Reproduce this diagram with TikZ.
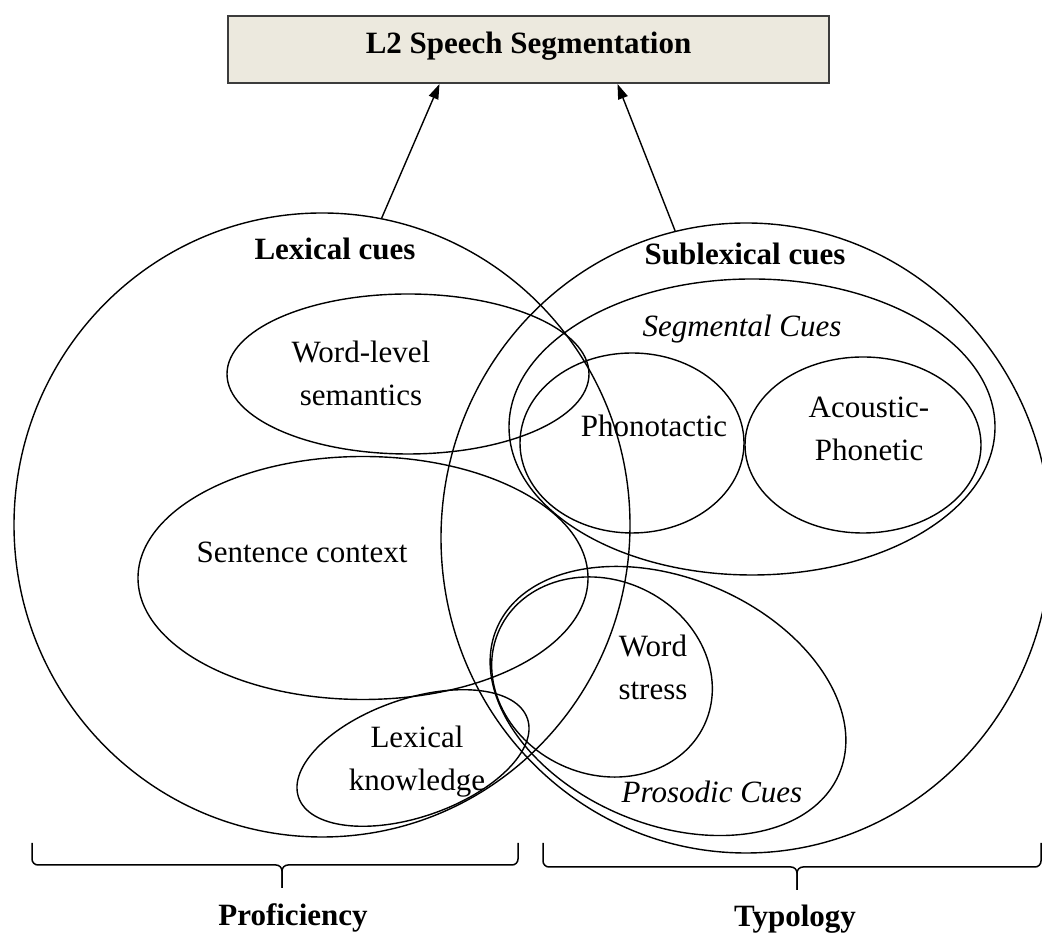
\documentclass[tikz,border=0pt]{standalone}
\usepackage{fontspec}
\setmainfont{Liberation Serif}
\usetikzlibrary{shapes.geometric,arrows.meta}
\newcommand{\twol}[2]{\begin{tabular}[t]{@{}c@{}}#1\\#2\end{tabular}}
\definecolor{boxfill}{RGB}{236,233,222}
\definecolor{boxline}{RGB}{60,60,60}
\begin{document}
\begin{tikzpicture}[x=1pt,y=1pt,
  ell/.style={draw, ellipse, inner sep=0pt, line width=1.4pt},
  rl/.style={anchor=base, inner sep=0pt, font=\fontsize{31}{43}\selectfont},
  bl/.style={anchor=base, inner sep=0pt, font=\fontsize{31}{43}\selectfont\bfseries},
  il/.style={anchor=base, inner sep=0pt, font=\fontsize{31}{43}\selectfont\itshape},
  conn/.style={line width=1.4pt, -{Triangle[length=15pt,width=10pt]}},
  bracestyle/.style={line width=1.5pt, rounded corners=6pt}
  ]
\useasboundingbox (0,0) rectangle (1042,933);
\clip (0,0) rectangle (1042,933);

% title box
\node[draw=boxline, fill=boxfill, line width=2pt, minimum width=601pt, minimum height=67pt,
      inner sep=0pt, text height=20pt, text depth=11pt,
      font=\fontsize{31}{43}\selectfont\bfseries] (box) at (528.5,883.5) {L2 Speech Segmentation};

% big circles
\node[ell, minimum width=616pt, minimum height=624pt] (lexc) at (322,408) {};
\node[ell, minimum width=610pt, minimum height=630pt] (sublexc) at (746,395) {};

% lexical sub-ellipses
\node[ell, minimum width=362pt, minimum height=160pt] (wordsem) at (408,559) {};
\node[ell, minimum width=450pt, minimum height=243pt] (sentctx) at (363,355) {};
\node[ell, minimum width=242pt, minimum height=118pt, rotate=19] (lexknow) at (413,175) {};

% sublexical sub-ellipses
\node[ell, minimum width=486pt, minimum height=296pt] (seg) at (752,506) {};
\node[ell, minimum width=224pt, minimum height=180pt] (phono) at (632,490) {};
\node[ell, minimum width=236pt, minimum height=176pt] (acou) at (863,488) {};
\node[ell, minimum width=372pt, minimum height=246pt, rotate=-23] (prosod) at (668,232) {};
\node[ell, minimum width=226pt, minimum height=194pt, rotate=-25] (wstress) at (602,256) {};

% arrows
\draw[conn] (lexc.79) -- ([xshift=-89pt]box.south);
\draw[conn] (sublexc.103) -- ([xshift=89pt]box.south);

% labels
\node[bl] (lexlbl) at (335,673) {Lexical cues};
\node[bl] (sublbl) at (745,668) {Sublexical cues};
\node[il] (seglbl) at (742,596) {Segmental Cues};
\node[rl] (phonolbl) at (654,496) {Phonotactic};
\node[rl] (acoulbl) at (869,515) {\twol{Acoustic-}{Phonetic}};
\node[rl] (wordsemlbl) at (361,570) {\twol{Word-level}{semantics}};
\node[rl] (sentlbl) at (302,370) {Sentence context};
\node[rl] (lexknowlbl) at (417,185) {\twol{Lexical}{knowledge}};
\node[rl] (wstresslbl) at (653,276) {\twol{Word}{stress}};
\node[il] (prosodlbl) at (712,130) {Prosodic Cues};

% braces
\coordinate (lbA) at (32,90);
\coordinate (lbB) at (518,90);
\coordinate (lbT) at (282,45);
\coordinate (rbA) at (543,90);
\coordinate (rbB) at (1041,90);
\coordinate (rbT) at (797,43);
\draw[bracestyle] (lbA) -- (32,68) -- (282,68) -- (lbT);
\draw[bracestyle] (lbB) -- (518,68) -- (282,68) -- (lbT);
\draw[bracestyle] (rbA) -- (543,66) -- (797,66) -- (rbT);
\draw[bracestyle] (rbB) -- (1041,66) -- (797,66) -- (rbT);

\node[bl] (proflbl) at (293,7) {Proficiency};
\node[bl] (typlbl) at (795,6) {Typology};
\end{tikzpicture}
\end{document}
